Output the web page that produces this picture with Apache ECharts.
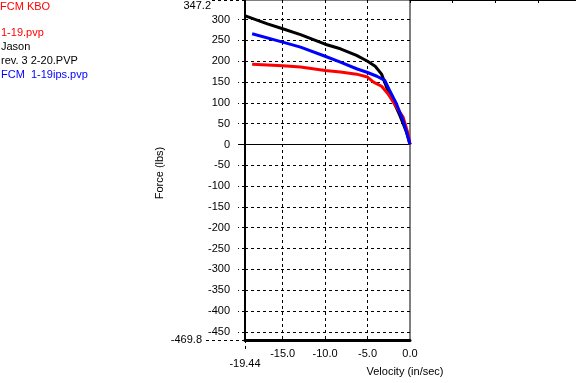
<!DOCTYPE html>
<html>
<head>
<meta charset="utf-8">
<script src="https://cdn.jsdelivr.net/npm/echarts@6/dist/echarts.min.js"></script>
<style>
html,body{margin:0;padding:0;background:#fff;}
#chart{width:576px;height:383px;}
</style>
</head>
<body>
<div id="chart"></div>
<script>
// ---- data ----
var titleText = 'FCM KBO';
var seriesNames = ['1-19.pvp', 'Jason\nrev. 3 2-20.PVP', 'FCM  1-19ips.pvp'];
var seriesColors = ['#ff0000', '#000000', '#0000ff'];

var redVel   = [-18.6, -15.0, -12.9, -10.0, -8.2, -6.3, -5.0, -4.3, -3.35, -2.6, -1.6, -0.82, -0.23, 0];
var redForce = [193, 189, 186, 178, 174, 169, 162, 150, 140, 122, 90, 66, 26, 0];

var blackVel   = [-19.4, -16.8, -15.0, -12.9, -10.0, -8.2, -6.3, -5.0, -4.1, -3.35, -2.77, -2.0, -1.2, -0.42, 0];
var blackForce = [309, 290, 278, 264, 241, 230, 214, 200, 188, 169, 138, 106, 70, 30, 0];

var blueVel   = [-18.6, -15.0, -12.9, -10.0, -8.2, -6.3, -5.0, -3.9, -2.97, -2.4, -1.6, -0.82, -0.23, 0];
var blueForce = [266, 246, 234, 212, 198, 182, 173, 164, 154, 130, 98, 58, 18, 0];

var xMin = -19.44, xMax = 0, xMirrorMax = 19.44;
var yMin = -469.8, yMax = 347.2;
var xTicks = [-15, -10, -5, 0];
var xGridTicks = [-15, -10, -5];
var yTicks = [-450, -400, -350, -300, -250, -200, -150, -100, -50, 0, 50, 100, 150, 200, 250, 300];

// ---- chart ----
var FONT = 'Liberation Sans';
function pairs(xs, ys){ return xs.map(function(x,i){ return [x, ys[i]]; }); }

var chart = echarts.init(document.getElementById('chart'), null, {renderer:'canvas'});
var dashed = {color:'#000', width:1, type:[3,3]};
var txt = {color:'#000', fontFamily:FONT, fontSize:11};

var option = {
  animation: false,
  backgroundColor: '#fff',
  title: {
    text: titleText, left: 0, top: 1, padding: 0,
    textStyle: {color:'#ff0000', fontFamily:FONT, fontSize:11, fontWeight:'normal'}
  },
  legend: {
    orient: 'vertical', left: 1, top: 26, padding: 0, itemGap: 0,
    itemWidth: 0, itemHeight: 0, icon: 'none',
    selectedMode: false,
    textStyle: {fontFamily:FONT, fontSize:11, lineHeight:14, padding:[0,0,0,-5]},
    data: seriesNames.map(function(n,i){ return {name:n, textStyle:{color:seriesColors[i]}}; })
  },
  grid: [
    {left:245, top:0, width:165, height:340, show:true, borderColor:'#000', borderWidth:1, backgroundColor:'transparent'},
    {left:410, top:0, right:0, height:340, show:false}
  ],
  xAxis: [
    {
      gridIndex:0, type:'value', min:xMin, max:xMax, position:'bottom',
      name:'Velocity (in/sec)', nameLocation:'end', nameGap:-5,
      nameTextStyle:{color:'#000', fontFamily:FONT, fontSize:11, align:'center', verticalAlign:'top', padding:[26,0,0,0]},
      axisLine:{onZero:false, lineStyle:{color:'#000', width:3}},
      axisTick:{show:false, customValues:xGridTicks},
      axisLabel:Object.assign({customValues:xTicks, margin:8, formatter:function(v){return v.toFixed(1);}}, txt),
      splitLine:{show:true, lineStyle:dashed}
    },
    {
      gridIndex:0, type:'value', min:xMin, max:xMax, position:'bottom',
      axisLine:{show:false, onZero:false},
      axisTick:{show:true, customValues:[xMin], length:12, lineStyle:dashed},
      axisLabel:Object.assign({customValues:[xMin], margin:18, formatter:function(v){return String(v);}}, txt),
      splitLine:{show:false}
    },
    {
      gridIndex:1, type:'value', min:0, max:xMirrorMax, interval:5, position:'top',
      axisLine:{onZero:false, lineStyle:{color:'#000', width:1}},
      axisTick:{show:true, inside:true, length:3, lineStyle:{color:'#000'}},
      axisLabel:{show:false},
      splitLine:{show:false}
    }
  ],
  yAxis: [
    {
      gridIndex:0, type:'value', min:yMin, max:yMax, position:'left',
      name:'Force (lbs)', nameLocation:'middle', nameGap:80,
      nameTextStyle:{color:'#000', fontFamily:FONT, fontSize:11, padding:[0,6,0,0]},
      axisLine:{onZero:false, lineStyle:{color:'#000', width:2}},
      axisTick:{show:true, customValues:yTicks, length:7, lineStyle:dashed},
      axisLabel:Object.assign({customValues:yTicks, margin:15}, txt),
      splitLine:{show:true, lineStyle:dashed}
    },
    {
      gridIndex:0, type:'value', min:yMin, max:yMax, position:'left',
      axisLine:{show:false, onZero:false},
      axisTick:{show:true, customValues:[0], length:7, lineStyle:{color:'#000', width:1}},
      axisLabel:{show:false},
      splitLine:{show:true, lineStyle:{color:'#000', width:1}}
    },
    {
      gridIndex:0, type:'value', min:yMin, max:yMax, position:'left',
      axisLine:{show:false, onZero:false},
      axisTick:{show:true, customValues:[yMin], length:42, lineStyle:dashed},
      axisLabel:Object.assign({customValues:[yMin], margin:43, formatter:function(v){return String(v);}}, txt),
      splitLine:{show:false}
    },
    {
      gridIndex:0, type:'value', min:yMin, max:yMax, position:'left',
      axisLine:{show:false, onZero:false},
      axisTick:{show:true, customValues:[yMax], length:33, lineStyle:dashed},
      axisLabel:Object.assign({customValues:[yMax], margin:34, verticalAlign:'top', formatter:function(v){return String(v);}}, txt),
      splitLine:{show:false}
    },
    {
      gridIndex:1, type:'value', min:yMin, max:yMax, show:false
    }
  ],
  series: [
    {name:seriesNames[1], type:'line', xAxisIndex:0, yAxisIndex:0, data:pairs(blackVel, blackForce),
     showSymbol:false, symbol:'none', lineStyle:{color:seriesColors[1], width:3}, itemStyle:{color:seriesColors[1]}, z:3},
    {name:seriesNames[0], type:'line', xAxisIndex:0, yAxisIndex:0, data:pairs(redVel, redForce),
     showSymbol:false, symbol:'none', lineStyle:{color:seriesColors[0], width:3}, itemStyle:{color:seriesColors[0]}, z:4},
    {name:seriesNames[2], type:'line', xAxisIndex:0, yAxisIndex:0, data:pairs(blueVel, blueForce),
     showSymbol:false, symbol:'none', lineStyle:{color:seriesColors[2], width:3}, itemStyle:{color:seriesColors[2]}, z:5}
  ]
};
chart.setOption(option);
</script>
</body>
</html>
